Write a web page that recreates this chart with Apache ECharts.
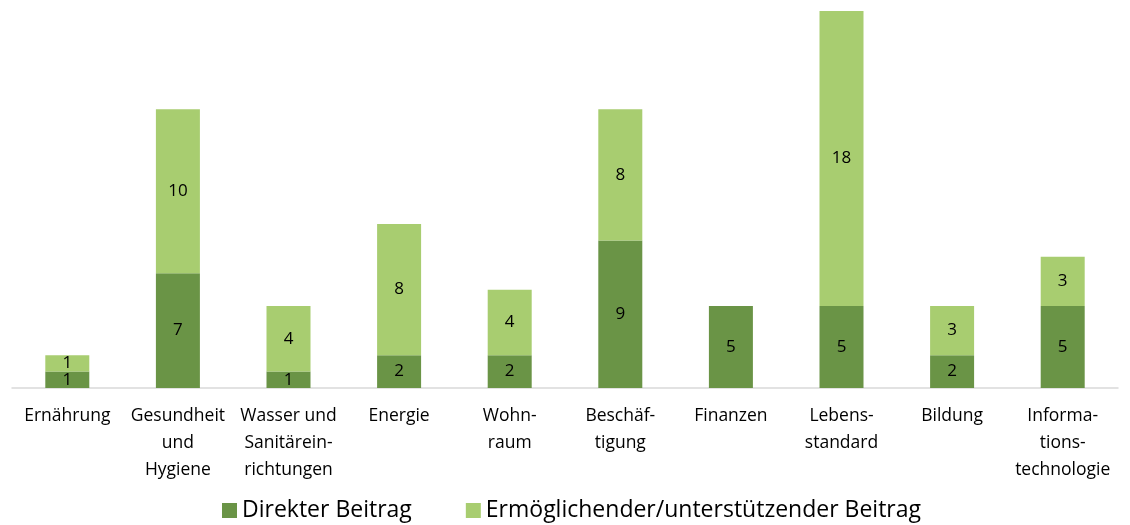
<!DOCTYPE html>
<html>
<head>
<meta charset="utf-8">
<script src="https://cdn.jsdelivr.net/npm/echarts@6/dist/echarts.min.js"></script>
<style>
  html, body { margin: 0; padding: 0; background: #fff; }
  #chart { width: 1130px; height: 525px; }
</style>
</head>
<body>
<div id="chart"></div>
<script>
  const categories = ['Ernährung', 'Gesundheit\nund\nHygiene', 'Wasser und\nSanitärein-\nrichtungen', 'Energie', 'Wohn-\nraum',
    'Beschäf-\ntigung', 'Finanzen', 'Lebens-\nstandard', 'Bildung', 'Informa-\ntions-\ntechnologie']
  const direkt = [1, 7, 1, 2, 2, 9, 5, 5, 2, 5]
  const ermoeglichend = [1, 10, 4, 8, 4, 8, null, 18, 3, 3]

  const font = '"Open Sans", sans-serif'
  const chart = echarts.init(document.getElementById('chart'))

  const labelCfg = {
    show: true,
    position: 'inside',
    color: '#000',
    fontSize: 17,
    fontFamily: font
  }

  chart.setOption({
    animation: false,
    grid: { left: 12, right: 12, top: 11, bottom: 137, containLabel: false },
    legend: {
      bottom: -2,
      left: 217,
      itemWidth: 15,
      itemHeight: 15,
      itemGap: 54,
      icon: 'rect',
      textStyle: { fontSize: 23, fontFamily: font, color: '#000' },
      data: ['Direkter Beitrag', 'Ermöglichender/unterstützender Beitrag']
    },
    xAxis: {
      type: 'category',
      data: categories,
      axisLine: { lineStyle: { color: '#d9d9d9', width: 1.5 } },
      axisTick: { show: false },
      axisLabel: {
        interval: 0,
        color: '#000',
        fontSize: 17.5,
        fontFamily: font,
        lineHeight: 27,
        margin: 15
      }
    },
    yAxis: {
      type: 'value',
      min: 0,
      max: 23,
      show: false,
      splitLine: { show: false }
    },
    series: [
      {
        name: 'Direkter Beitrag',
        type: 'bar',
        stack: 'a',
        barWidth: 44,
        itemStyle: { color: '#6a9446' },
        label: labelCfg,
        data: direkt
      },
      {
        name: 'Ermöglichender/unterstützender Beitrag',
        type: 'bar',
        stack: 'a',
        barWidth: 44,
        itemStyle: { color: '#a8cd70' },
        label: labelCfg,
        data: ermoeglichend
      }
    ]
  })
</script>
</body>
</html>
